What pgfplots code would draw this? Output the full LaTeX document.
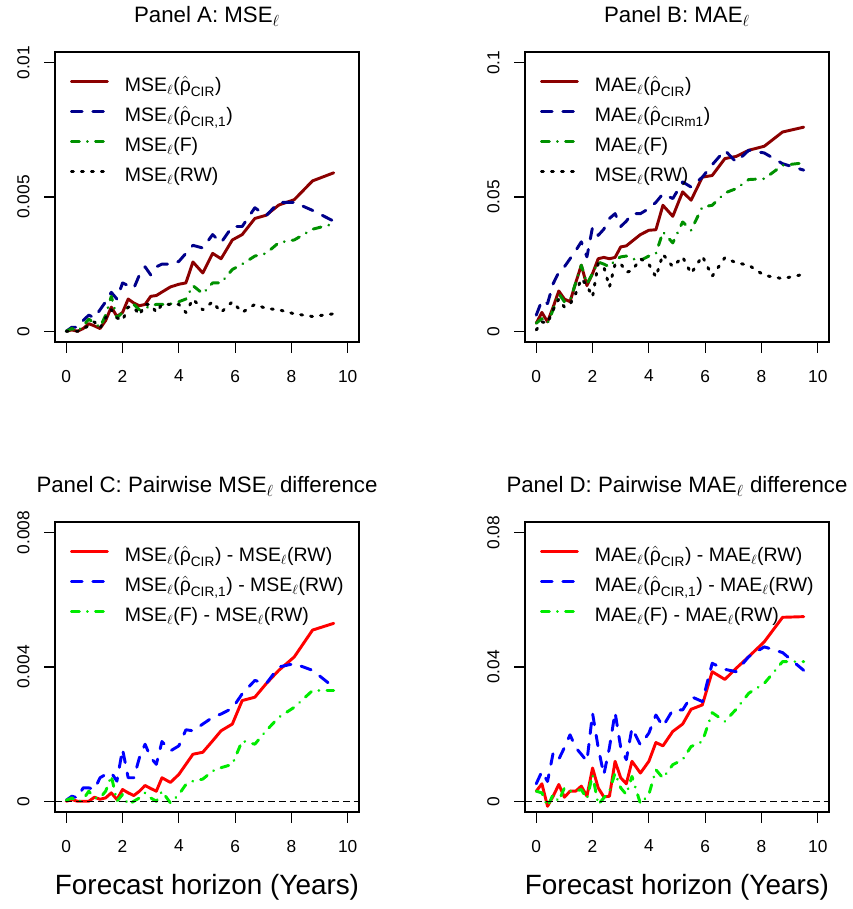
\documentclass[border=0pt]{standalone}
\usepackage{amsmath}
\usepackage{fontspec}
\setmainfont{Liberation Sans}
\usepackage{pgfplots}
\usepackage{pgfplotstable}
\pgfplotsset{compat=1.18}

\definecolor{dred}{RGB}{139,0,0}
\definecolor{dblue}{RGB}{0,0,139}
\definecolor{dgreen}{RGB}{0,145,0}
\definecolor{lred}{RGB}{255,0,0}
\definecolor{lblue}{RGB}{0,0,255}
\definecolor{lgreen}{RGB}{0,235,0}

\newcommand{\rh}{\hat{\text{ρ}}}

% x = horizon (years)
\pgfplotstableread{
x r b g k
0     0.00000 0.00000 0.00000 0.00000
0.2   0.00005 0.00015 0.00010 0.00000
0.4   0.00000 0.00015 0.00000 0.00000
0.6   0.00010 0.00040 0.00020 0.00010
0.8   0.00028 0.00060 0.00045 0.00020
1.0   0.00020 0.00050 0.00030 0.00035
1.2   0.00010 0.00080 0.00015 0.00012
1.4   0.00040 0.00110 0.00060 0.00050
1.6   0.00090 0.00145 0.00130 0.00080
1.8   0.00055 0.00120 0.00050 0.00050
2.0   0.00070 0.00180 0.00070 0.00040
2.2   0.00120 0.00170 0.00090 0.00090
2.4   0.00105 0.00160 0.00100 0.00090
2.6   0.00095 0.00210 0.00080 0.00060
2.8   0.00100 0.00240 0.00085 0.00100
3.0   0.00130 0.00210 0.00095 0.00100
3.2   0.00133 0.00240 0.00100 0.00070
3.4   0.00146 0.00250 0.00100 0.00100
3.7   0.00165 0.00250 0.00102 0.00100
4.0   0.00175 0.00260 0.00110 0.00100
4.25  0.00180 0.00290 0.00120 0.00070
4.5   0.00258 0.00320 0.00170 0.00120
4.85  0.00217 0.00310 0.00140 0.00080
5.2   0.00290 0.00360 0.00180 0.00110
5.5   0.00270 0.00330 0.00180 0.00070
5.9   0.00340 0.00390 0.00230 0.00110
6.25  0.00360 0.00390 0.00250 0.00070
6.7   0.00420 0.00460 0.00280 0.00100
7.1   0.00432 0.00430 0.00290 0.00085
7.55  0.00470 0.00480 0.00330 0.00080
8.1   0.00490 0.00480 0.00340 0.00065
8.75  0.00560 0.00450 0.00380 0.00055
9.5   0.00590 0.00410 0.00400 0.00065
}\tabA

\pgfplotstableread{
x r b g k
0     0.0030 0.0060 0.0030 0.0005
0.2   0.0070 0.0115 0.0047 0.0035
0.4   0.0035 0.0103 0.0030 0.0030
0.6   0.0090 0.0177 0.0080 0.0080
0.8   0.0150 0.0220 0.0140 0.0120
1.0   0.0120 0.0240 0.0110 0.0090
1.2   0.0110 0.0270 0.0115 0.0100
1.4   0.0180 0.0300 0.0180 0.0140
1.6   0.0246 0.0333 0.0246 0.0196
1.8   0.0170 0.0277 0.0177 0.0170
2.0   0.0215 0.0388 0.0215 0.0128
2.2   0.0270 0.0357 0.0258 0.0252
2.4   0.0275 0.0380 0.0250 0.0240
2.6   0.0270 0.0420 0.0240 0.0165
2.8   0.0275 0.0438 0.0265 0.0250
3.0   0.0314 0.0390 0.0277 0.0252
3.2   0.0318 0.0410 0.0280 0.0220
3.4   0.0335 0.0438 0.0270 0.0225
3.7   0.0360 0.0438 0.0264 0.0270
4.0   0.0376 0.0457 0.0280 0.0250
4.25  0.0378 0.0480 0.0289 0.0202
4.5   0.0469 0.0512 0.0370 0.0287
4.85  0.0428 0.0494 0.0329 0.0240
5.2   0.0519 0.0556 0.0407 0.0277
5.5   0.0488 0.0537 0.0376 0.0215
5.9   0.0574 0.0574 0.0463 0.0280
6.25  0.0580 0.0620 0.0469 0.0205
6.7   0.0643 0.0674 0.0515 0.0274
7.1   0.0651 0.0630 0.0531 0.0255
7.55  0.0674 0.0674 0.0565 0.0246
8.1   0.0689 0.0664 0.0568 0.0208
8.75  0.0742 0.0624 0.0618 0.0196
9.5   0.0760 0.0600 0.0627 0.0212
}\tabB

\pgfplotstableread{
x r b g
0     0.00000 0.00003 0.00003
0.2   0.00005 0.00015 0.00010
0.4   0.00000 0.00010 -0.00003
0.6   0.00000 0.00040 0.00005
0.8   0.00000 0.00040 0.00030
1.0   0.00012 0.00035 0.00010
1.2   0.00006 0.00070 0.00010
1.4   0.00010 0.00080 0.00030
1.6   0.00025 0.00085 0.00076
1.8   0.00005 0.00060 0.00000
2.0   0.00035 0.00155 0.00020
2.2   0.00025 0.00070 -0.00010
2.4   0.00017 0.00070 0.00000
2.6   0.00030 0.00130 0.00010
2.8   0.00047 0.00170 0.00025
3.0   0.00038 0.00130 0.00010
3.2   0.00030 0.00110 0.00000
3.4   0.00070 0.00178 0.00030
3.7   0.00056 0.00150 -0.00005
4.0   0.00080 0.00165 0.00020
4.25  0.00110 0.00213 0.00050
4.5   0.00140 0.00210 0.00060
4.85  0.00146 0.00230 0.00066
5.2   0.00180 0.00250 0.00090
5.5   0.00210 0.00260 0.00100
5.9   0.00230 0.00277 0.00110
6.25  0.00300 0.00320 0.00180
6.7   0.00310 0.00360 0.00170
7.1   0.00350 0.00350 0.00210
7.55  0.00390 0.00400 0.00250
8.1   0.00430 0.00410 0.00280
8.75  0.00510 0.00390 0.00330
9.5   0.00530 0.00340 0.00330
}\tabC

\pgfplotstableread{
x r b g
0     0.0030 0.0052 0.0030
0.2   0.0052 0.0089 0.0025
0.4   -0.0015 0.0059 -0.0015
0.6   0.0015 0.0144 0.0020
0.8   0.0050 0.0125 0.0000
1.0   0.0012 0.0160 0.0040
1.2   0.0030 0.0198 0.0030
1.4   0.0030 0.0160 0.0030
1.6   0.0045 0.0140 0.0035
1.8   0.0015 0.0119 0.0007
2.0   0.0099 0.0262 0.0079
2.2   0.0040 0.0160 -0.0010
2.4   0.0013 0.0079 0.0010
2.6   0.0015 0.0160 0.0030
2.8   0.0119 0.0265 0.0084
3.0   0.0070 0.0160 0.0040
3.2   0.0052 0.0124 0.0020
3.4   0.0119 0.0218 0.0074
3.7   0.0084 0.0168 -0.0007
4.0   0.0119 0.0203 0.0020
4.25  0.0175 0.0257 0.0094
4.5   0.0165 0.0223 0.0069
4.85  0.0208 0.0272 0.0109
5.2   0.0230 0.0272 0.0124
5.5   0.0274 0.0312 0.0163
5.9   0.0287 0.0297 0.0178
6.25  0.0386 0.0411 0.0264
6.7   0.0363 0.0393 0.0238
7.1   0.0396 0.0386 0.0274
7.55  0.0431 0.0431 0.0322
8.1   0.0475 0.0460 0.0351
8.75  0.0548 0.0443 0.0416
9.5   0.0550 0.0390 0.0416
}\tabD

\pgfplotsset{
  panel/.style={
    scale only axis, width=228pt, height=217.5pt,
    anchor=south west,
    xmin=-0.4, xmax=10.4,
    xtick={0,2,4,6,8,10}, xticklabels={0,2,4,6,8,10},
    tick align=outside, tick pos=left,
    major tick length=8pt,
    every tick/.style={black, line width=0.8pt},
    axis line style={line width=0.8pt},
    scaled ticks=false,
    ticklabel style={font=\fontsize{13}{15}\selectfont},
    xticklabel style={yshift=-9.5pt},
    yticklabel style={xshift=-7.5pt, rotate=90, anchor=south},
    title style={font=\fontsize{16.7}{19}\selectfont, at={(0.5,1)}, anchor=base, yshift=16pt},
    legend cell align=left,
    legend style={draw=none, fill=none, at={(0,1)}, anchor=north west,
      xshift=11.25pt, yshift=-19pt, inner sep=0pt, outer sep=0pt,
      row sep=7.5pt, column sep=12pt,
      nodes={inner sep=0pt, text height=11pt, text depth=4pt},
      font=\fontsize{14.6}{17}\selectfont},
    legend image code/.code={\draw[##1] (0pt,4.5pt) -- (27pt,4.5pt);},
  },
  lw/.style={line width=2.2pt, line cap=round, line join=round, mark=none},
  sol/.style={lw, solid},
  lda/.style={lw, dash pattern=on 8pt off 8pt},
  dda/.style={lw, dash pattern=on 6pt off 6pt on 0.01pt off 6pt},
  dot/.style={lw, dash pattern=on 1.5pt off 6pt},
  xlab/.style={xlabel={Forecast horizon (Years)},
    xlabel style={font=\fontsize{20.9}{24}\selectfont, at={(axis description cs:0.5,0)}, anchor=base, yshift=-62.25pt}},
}

\begin{document}
\begin{tikzpicture}
\useasboundingbox (0,0) rectangle (639pt,681.75pt);

% Panel A
\begin{axis}[panel, at={(41.25pt,425.25pt)},
  ymin=-0.0004, ymax=0.0104, ytick={0,0.005,0.01}, yticklabels={0,0.005,0.01},
  title={Panel A: MSE$_\ell$}]
\addplot[sol, dred] table[x=x,y=r]{\tabA};
\addlegendentry{MSE$_\ell$($\rh_{\text{CIR}}$)}
\addplot[lda, dblue] table[x=x,y=b]{\tabA};
\addlegendentry{MSE$_\ell$($\rh_{\text{CIR,1}}$)}
\addplot[dda, dgreen] table[x=x,y=g]{\tabA};
\addlegendentry{MSE$_\ell$(F)}
\addplot[dot, black] table[x=x,y=k]{\tabA};
\addlegendentry{MSE$_\ell$(RW)}
\end{axis}

% Panel B
\begin{axis}[panel, at={(393.75pt,425.25pt)},
  ymin=-0.004, ymax=0.104, ytick={0,0.05,0.1}, yticklabels={0,0.05,0.1},
  title={Panel B: MAE$_\ell$}]
\addplot[sol, dred] table[x=x,y=r]{\tabB};
\addlegendentry{MAE$_\ell$($\rh_{\text{CIR}}$)}
\addplot[lda, dblue] table[x=x,y=b]{\tabB};
\addlegendentry{MAE$_\ell$($\rh_{\text{CIRm1}}$)}
\addplot[dda, dgreen] table[x=x,y=g]{\tabB};
\addlegendentry{MAE$_\ell$(F)}
\addplot[dot, black] table[x=x,y=k]{\tabB};
\addlegendentry{MSE$_\ell$(RW)}
\end{axis}

% Panel C
\begin{axis}[panel, xlab, at={(41.25pt,72.75pt)},
  ymin=-0.00032, ymax=0.00832, ytick={0,0.004,0.008}, yticklabels={0,0.004,0.008},
  title={Panel C: Pairwise MSE$_\ell$ difference}]
\addplot[sol, lred] table[x=x,y=r]{\tabC};
\addlegendentry{MSE$_\ell$($\rh_{\text{CIR}}$) - MSE$_\ell$(RW)}
\addplot[lda, lblue] table[x=x,y=b]{\tabC};
\addlegendentry{MSE$_\ell$($\rh_{\text{CIR,1}}$) - MSE$_\ell$(RW)}
\addplot[dda, lgreen] table[x=x,y=g]{\tabC};
\addlegendentry{MSE$_\ell$(F) - MSE$_\ell$(RW)}
\addplot[forget plot, black, line width=0.9pt, dash pattern=on 5pt off 3pt] coordinates {(-0.4,0) (10.4,0)};
\end{axis}

% Panel D
\begin{axis}[panel, xlab, at={(393.75pt,72.75pt)},
  ymin=-0.0032, ymax=0.0832, ytick={0,0.04,0.08}, yticklabels={0,0.04,0.08},
  title={Panel D: Pairwise MAE$_\ell$ difference}]
\addplot[sol, lred] table[x=x,y=r]{\tabD};
\addlegendentry{MAE$_\ell$($\rh_{\text{CIR}}$) - MAE$_\ell$(RW)}
\addplot[lda, lblue] table[x=x,y=b]{\tabD};
\addlegendentry{MAE$_\ell$($\rh_{\text{CIR,1}}$) - MAE$_\ell$(RW)}
\addplot[dda, lgreen] table[x=x,y=g]{\tabD};
\addlegendentry{MAE$_\ell$(F) - MAE$_\ell$(RW)}
\addplot[forget plot, black, line width=0.9pt, dash pattern=on 5pt off 3pt] coordinates {(-0.4,0) (10.4,0)};
\end{axis}
\end{tikzpicture}
\end{document}
